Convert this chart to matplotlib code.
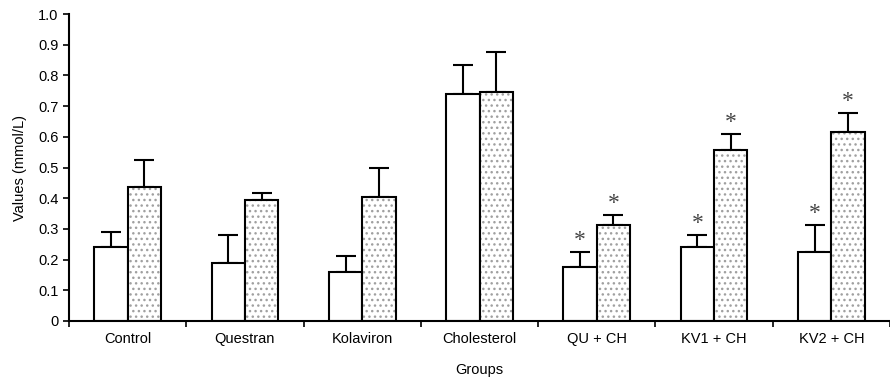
import numpy as np
import matplotlib.pyplot as plt

plt.rcParams['font.family'] = ['Liberation Sans', 'DejaVu Sans']

groups = ["Control", "Questran", "Kolaviron", "Cholesterol", "QU + CH", "KV1 + CH", "KV2 + CH"]
white_vals = [0.241, 0.189, 0.160, 0.740, 0.177, 0.242, 0.226]
white_err = [0.049, 0.091, 0.052, 0.095, 0.049, 0.038, 0.087]
dot_vals = [0.436, 0.394, 0.405, 0.745, 0.313, 0.557, 0.617]
dot_err = [0.088, 0.022, 0.095, 0.130, 0.032, 0.051, 0.061]
white_star = [False, False, False, False, True, True, True]
dot_star = [False, False, False, False, True, True, True]

x = np.arange(len(groups))
w = 0.285

fig = plt.figure(figsize=(8.9, 3.81), dpi=100)
ax = fig.add_axes([69 / 890, 60 / 381, 821 / 890, 307 / 381])

# white bars
ax.bar(x - w / 2, white_vals, w, color="white", edgecolor="black", linewidth=1.5, zorder=2)
ax.errorbar(x - w / 2, white_vals, yerr=[np.zeros(len(x)), white_err], fmt="none",
            ecolor="black", elinewidth=1.5, capsize=7, capthick=1.5, zorder=1)

# dotted bars: hatch in grey, then black outline
ax.bar(x + w / 2, dot_vals, w, color="white", edgecolor="#a0a0a0", hatch="...", linewidth=0, zorder=2)
ax.bar(x + w / 2, dot_vals, w, fill=False, edgecolor="black", linewidth=1.5, zorder=3)
ax.errorbar(x + w / 2, dot_vals, yerr=[np.zeros(len(x)), dot_err], fmt="none",
            ecolor="black", elinewidth=1.5, capsize=7, capthick=1.5, zorder=1)

for i in range(len(x)):
    if white_star[i]:
        ax.text(x[i] - w / 2, white_vals[i] + white_err[i] + 0.003, "*", ha="center",
                va="bottom", fontsize=17, color="#444444", family="Liberation Serif")
    if dot_star[i]:
        ax.text(x[i] + w / 2, dot_vals[i] + dot_err[i] + 0.003, "*", ha="center",
                va="bottom", fontsize=17, color="#444444", family="Liberation Serif")

ax.set_xlim(-0.5, -0.5 + 821 / 118.6)
ax.set_ylim(0, 1.0)
ax.set_yticks(np.arange(0, 1.01, 0.1))
ax.set_yticklabels(["0"] + ["%.1f" % v for v in np.arange(0.1, 1.01, 0.1)])
ax.set_xticks(x)
ax.set_xticklabels(groups)
ax.set_xticks(np.arange(-0.5, 7, 1), minor=True)
ax.tick_params(axis="x", which="major", length=0, pad=8, labelsize=10.5)
ax.tick_params(axis="x", which="minor", length=4, width=1.2)
ax.tick_params(axis="y", length=4, width=1.2, labelsize=10.5)

for s in ["top", "right"]:
    ax.spines[s].set_visible(False)
ax.spines["left"].set_linewidth(1.5)
ax.spines["bottom"].set_linewidth(1.5)

ax.set_ylabel("Values (mmol/L)", fontsize=10.5, labelpad=8)
ax.set_xlabel("Groups", fontsize=10.5, labelpad=12)

fig.savefig("out.png", dpi=100)
